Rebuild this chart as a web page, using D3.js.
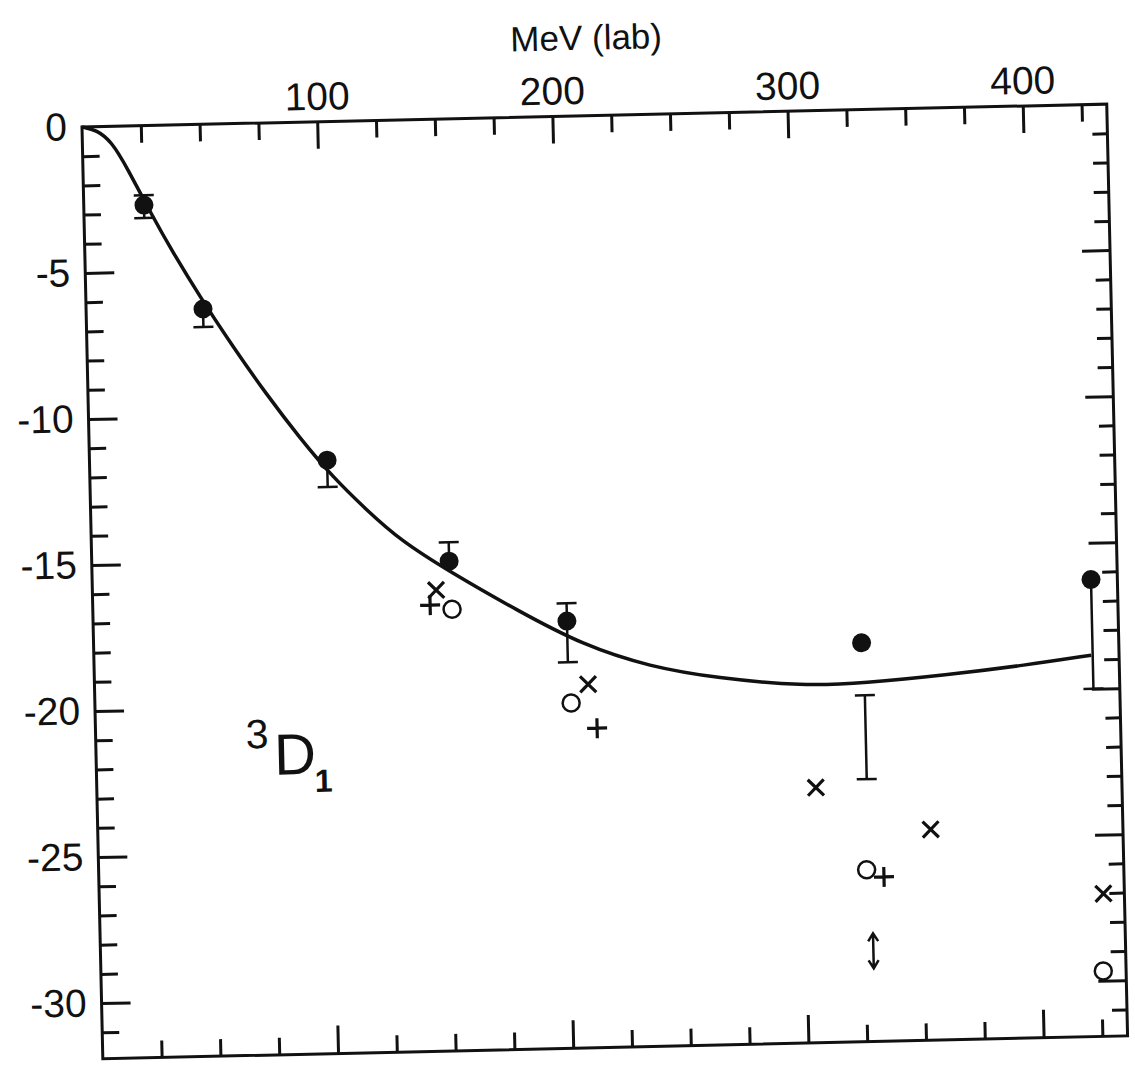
<!DOCTYPE html>
<html>
<head>
<meta charset="utf-8">
<script src="https://cdn.jsdelivr.net/npm/d3@7"></script>
<style>
    body { margin: 0; background: #fff; }
</style>
</head>
<body>
<svg id="chart"></svg>
<script>
// theory curve (MeV lab, phase shift in degrees)
var curveE = [0, 6.2, 12.5, 18.6, 29.3, 36.9, 48.5, 62.2, 76, 89.7, 103.4, 117.4, 131.2, 152.2, 180.2, 208, 236.3, 264.6, 301.4, 327.1, 361.6, 396.1, 423.9];
var curveD = [0, -0.11, -0.53, -1.40, -3.14, -4.28, -5.90, -7.65, -9.31, -10.82, -12.19, -13.33, -14.38, -15.51, -16.87, -18.12, -18.91, -19.35, -19.69, -19.63, -19.42, -19.14, -18.85];

// filled circles, with error bar ends (null = no visible cap)
var dotE  = [25.6, 49.7, 101, 151.9, 201.4, 326.4, 424.5];
var dotD  = [-2.72, -6.32, -11.59, -15.14, -17.28, -18.25, -16.26];
var dotHi = [-2.38, null, null, -14.49, -16.67, null, null];
var dotLo = [-3.16, -6.94, -12.51, null, -18.69, null, -20.0];

// error bar with no marker
var barE  = [327.3];
var barHi = [-20.05];
var barLo = [-22.92];

// other analyses
var crossE = [146.1, 209.8, 305.6, 354, 426.8];
var crossD = [-16.12, -19.46, -23.17, -24.69, -27.02];
var plusE  = [143.4, 213.2, 333.7];
var plusD  = [-16.63, -20.97, -26.28];
var ringE  = [152.7, 202.4, 326.4, 426];
var ringD  = [-16.79, -20.09, -26.02, -29.67];
var arrowE  = [328.5];
var arrowHi = [-28.2];
var arrowLo = [-29.4];

// ticks
var xMajor = [100, 200, 300, 400];
var xMinor = [25, 50, 75, 125, 150, 175, 225, 250, 275, 325, 350, 375, 425];
var yMajor = [0, -5, -10, -15, -20, -25, -30];
var yMinor = d3.range(-1, -32, -1).filter(function (d) { return d % 5 !== 0; });

var width = 1135, height = 1067;
var plotW = 1025, plotH = 932;
var ink = "#111";
var font = "'Liberation Sans', Arial, sans-serif";

var svg = d3.select("#chart").attr("width", width).attr("height", height);

// the scanned page is slightly turned
var g = svg.append("g")
    .attr("transform", "translate(82,127) rotate(-1.28)")
    .attr("color", ink);

var x = d3.scaleLinear().domain([0, 400]).range([0, 941]);
var y = d3.scaleLinear().domain([0, -30]).range([0, 876.3]);

function styleAxis(sel) {
    sel.select(".domain").remove();
    sel.selectAll("line").attr("stroke-width", 3);
    sel.selectAll("text")
        .style("font-family", font)
        .style("font-size", "39px")
        .attr("fill", ink);
}

// top axis (labelled)
g.append("g").call(d3.axisTop(x).tickValues(xMajor).tickSizeInner(-27).tickSizeOuter(0).tickPadding(12)
    .tickFormat(function (d) { return String(d); })).call(styleAxis);
g.append("g").call(d3.axisTop(x).tickValues(xMinor).tickSizeInner(-17).tickSizeOuter(0).tickFormat("")).call(styleAxis);

// bottom axis
g.append("g").attr("transform", "translate(0," + plotH + ")")
    .call(d3.axisBottom(x).tickValues(xMajor).tickSizeInner(-28).tickSizeOuter(0).tickFormat("")).call(styleAxis);
g.append("g").attr("transform", "translate(0," + plotH + ")")
    .call(d3.axisBottom(x).tickValues(xMinor).tickSizeInner(-17).tickSizeOuter(0).tickFormat("")).call(styleAxis);

// left axis (labelled)
g.append("g").call(d3.axisLeft(y).tickValues(yMajor.slice(1)).tickSizeInner(-29).tickSizeOuter(0).tickPadding(15)
    .tickFormat(function (d) { return String(d); })).call(styleAxis);
g.append("g").call(d3.axisLeft(y).tickValues([0]).tickSizeInner(0).tickSizeOuter(0).tickPadding(15)
    .tickFormat(function (d) { return String(d); })).call(styleAxis);
g.append("g").call(d3.axisLeft(y).tickValues(yMinor).tickSizeInner(-17).tickSizeOuter(0).tickFormat("")).call(styleAxis);

// right axis
g.append("g").attr("transform", "translate(" + plotW + ",0)")
    .call(d3.axisRight(y).tickValues(yMajor.slice(1)).tickSizeInner(-28).tickSizeOuter(0).tickFormat("")).call(styleAxis);
g.append("g").attr("transform", "translate(" + plotW + ",0)")
    .call(d3.axisRight(y).tickValues(yMinor).tickSizeInner(-15).tickSizeOuter(0).tickFormat("")).call(styleAxis);

// frame
g.append("rect")
    .attr("x", 0).attr("y", 0)
    .attr("width", plotW).attr("height", plotH)
    .attr("fill", "none")
    .attr("stroke", ink)
    .attr("stroke-width", 3);

// axis title
g.append("text")
    .attr("x", 506).attr("y", -66)
    .attr("text-anchor", "middle")
    .style("font-family", font)
    .style("font-size", "35px")
    .attr("fill", ink)
    .text("MeV (lab)");

// 3D1 label
g.append("text").attr("x", 150).attr("y", 625)
    .style("font-family", font).style("font-size", "41px").attr("fill", ink).text("3");
g.append("text").attr("x", 178).attr("y", 652)
    .style("font-family", font).style("font-size", "58px").attr("fill", ink).text("D");
g.append("text").attr("x", 218).attr("y", 670)
    .style("font-family", font).style("font-size", "32px").style("font-weight", "bold").attr("fill", ink).text("1");

// theory curve
var line = d3.line()
    .x(function (d) { return x(d[0]); })
    .y(function (d) { return y(d[1]); })
    .curve(d3.curveBasis);

g.append("path")
    .datum(d3.zip(curveE, curveD))
    .attr("d", line)
    .attr("fill", "none")
    .attr("stroke", ink)
    .attr("stroke-width", 3.5);

// error bars
function errorBar(e, mid, hi, lo) {
    var top = hi === null ? mid : hi;
    var bot = lo === null ? mid : lo;
    g.append("line")
        .attr("x1", x(e)).attr("x2", x(e))
        .attr("y1", y(top)).attr("y2", y(bot))
        .attr("stroke", ink).attr("stroke-width", 2.5);
    [hi, lo].forEach(function (v) {
        if (v === null) return;
        g.append("line")
            .attr("x1", x(e) - 10).attr("x2", x(e) + 10)
            .attr("y1", y(v)).attr("y2", y(v))
            .attr("stroke", ink).attr("stroke-width", 2.5);
    });
}

dotE.forEach(function (e, i) {
    errorBar(e, dotD[i], dotHi[i], dotLo[i]);
});
barE.forEach(function (e, i) {
    errorBar(e, (barHi[i] + barLo[i]) / 2, barHi[i], barLo[i]);
});

g.selectAll("circle.dot")
    .data(d3.zip(dotE, dotD))
    .enter()
    .append("circle")
    .attr("class", "dot")
    .attr("cx", function (d) { return x(d[0]); })
    .attr("cy", function (d) { return y(d[1]); })
    .attr("r", 9.5)
    .attr("fill", ink);

g.selectAll("circle.ring")
    .data(d3.zip(ringE, ringD))
    .enter()
    .append("circle")
    .attr("class", "ring")
    .attr("cx", function (d) { return x(d[0]); })
    .attr("cy", function (d) { return y(d[1]); })
    .attr("r", 8.5)
    .attr("fill", "none")
    .attr("stroke", ink)
    .attr("stroke-width", 2.5);

g.selectAll("path.cross")
    .data(d3.zip(crossE, crossD))
    .enter()
    .append("path")
    .attr("class", "cross")
    .attr("d", function (d) {
        var cx = x(d[0]), cy = y(d[1]), s = 8;
        return "M" + (cx - s) + "," + (cy - s) + "L" + (cx + s) + "," + (cy + s) +
               "M" + (cx - s) + "," + (cy + s) + "L" + (cx + s) + "," + (cy - s);
    })
    .attr("stroke", ink)
    .attr("stroke-width", 3.2);

g.selectAll("path.plus")
    .data(d3.zip(plusE, plusD))
    .enter()
    .append("path")
    .attr("class", "plus")
    .attr("d", function (d) {
        var cx = x(d[0]), cy = y(d[1]), s = 10;
        return "M" + (cx - s) + "," + cy + "L" + (cx + s) + "," + cy +
               "M" + cx + "," + (cy - s) + "L" + cx + "," + (cy + s);
    })
    .attr("stroke", ink)
    .attr("stroke-width", 3.2);

// double-headed arrow
arrowE.forEach(function (e, i) {
    var cx = x(e), y1 = y(arrowHi[i]), y2 = y(arrowLo[i]);
    g.append("path")
        .attr("d", "M" + cx + "," + y1 + "L" + cx + "," + y2 +
                   "M" + (cx - 5) + "," + (y1 + 8) + "L" + cx + "," + y1 + "L" + (cx + 5) + "," + (y1 + 8) +
                   "M" + (cx - 5) + "," + (y2 - 8) + "L" + cx + "," + y2 + "L" + (cx + 5) + "," + (y2 - 8))
        .attr("fill", "none")
        .attr("stroke", ink)
        .attr("stroke-width", 2.5);
});
</script>
</body>
</html>
